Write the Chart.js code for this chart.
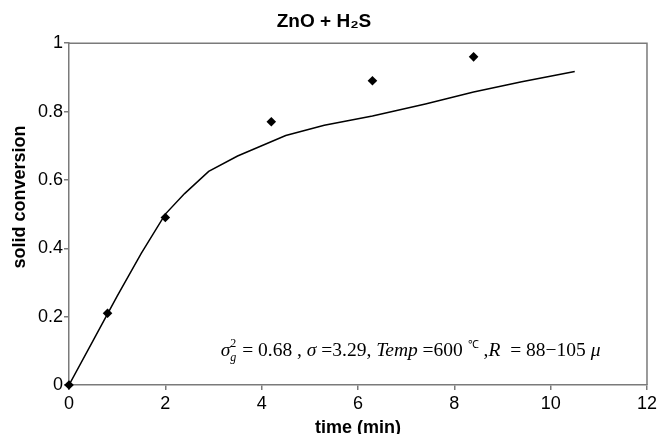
<!DOCTYPE html>
<html>
<head>
<meta charset="utf-8">
<script src="https://cdn.jsdelivr.net/npm/chart.js@4"></script>
<style>
    html, body { margin: 0; padding: 0; background: #fff; }
    #wrap { width: 660px; height: 434px; }
</style>
</head>
<body>
<div id="wrap"><canvas id="chart" width="660" height="434"></canvas></div>
<script>
// measured points (diamonds)
const timeExp = [0, 0.8, 2, 4.2, 6.3, 8.4];
const convExp = [0, 0.21, 0.49, 0.77, 0.89, 0.96];

// model curve
const timeModel = [0, 0.5, 1, 1.5, 2, 2.4, 2.9, 3.5, 4.5, 5.3, 6.3, 7.4, 8.4, 9.4, 10.5];
const convModel = [0, 0.13, 0.26, 0.385, 0.5, 0.56, 0.625, 0.67, 0.73, 0.76, 0.787, 0.822, 0.857, 0.887, 0.917];

const xTicks = [0, 2, 4, 6, 8, 10, 12];
const yTicks = [0, 0.2, 0.4, 0.6, 0.8, 1];

const axisGray = "#7a7a7a";
const sans = "'Liberation Sans', Arial, sans-serif";
const serif = "'Liberation Serif', 'Times New Roman', serif";

// top + right frame, y title, and the parameter note
const extras = {
    id: "extras",
    afterDraw(chart) {
        const ctx = chart.ctx;
        const a = chart.chartArea;
        ctx.save();
        ctx.strokeStyle = axisGray;
        ctx.lineWidth = 1.5;
        ctx.beginPath();
        ctx.moveTo(a.left, a.top);
        ctx.lineTo(a.right, a.top);
        ctx.lineTo(a.right, a.bottom);
        ctx.stroke();

        // y axis title
        ctx.fillStyle = "#000";
        ctx.font = "bold 18px " + sans;
        ctx.textAlign = "center";
        ctx.textBaseline = "middle";
        ctx.translate(20, 197);
        ctx.rotate(-Math.PI / 2);
        ctx.fillText("solid conversion", 0, 0);
        ctx.restore();

        // note
        const xs = chart.scales.x, ys = chart.scales.y;
        let x = xs.getPixelForValue(3.15);
        const y = ys.getPixelForValue(0.084);
        ctx.save();
        ctx.fillStyle = "#000";
        ctx.textBaseline = "alphabetic";
        ctx.textAlign = "left";
        const put = (txt, font, dy) => {
            ctx.font = font;
            ctx.fillText(txt, x, y + (dy || 0));
            x += ctx.measureText(txt).width;
        };
        const it = "italic 19.5px " + serif;
        const rm = "19.5px " + serif;
        const sm = "italic 12px " + serif;
        ctx.font = it;
        const sx = x + ctx.measureText("σ").width;
        put("σ", it);
        ctx.font = sm;
        ctx.fillText("g", sx, y + 5);
        ctx.font = "12px " + serif;
        ctx.fillText("2", sx, y - 9);
        x = sx + 7;
        put(" = 0.68 , ", rm);
        put("σ", it);
        put(" =3.29, ", rm);
        put("Temp", it);
        put(" =600 ", rm);
        put("℃", "11px " + serif, -8);
        put(" ,", rm);
        put("R", it);
        put("  = 88−105 ", rm);
        put("μ", it);
        ctx.restore();
    }
};

new Chart(document.getElementById("chart"), {
    type: "scatter",
    data: {
        datasets: [
            {
                label: "model",
                data: timeModel.map((t, i) => ({ x: t, y: convModel[i] })),
                showLine: true,
                borderColor: "#000",
                borderWidth: 1.5,
                pointRadius: 0,
                tension: 0
            },
            {
                label: "experiment",
                data: timeExp.map((t, i) => ({ x: t, y: convExp[i] })),
                pointStyle: "rectRot",
                pointRadius: 4.8,
                backgroundColor: "#000",
                borderColor: "#000",
                borderWidth: 0,
                clip: false
            }
        ]
    },
    options: {
        responsive: false,
        animation: false,
        layout: { padding: { left: 0, right: 12, top: 0, bottom: 0 } },
        plugins: {
            legend: { display: false },
            tooltip: { enabled: false },
            title: {
                display: true,
                text: "ZnO + H₂S",
                color: "#000",
                font: { family: sans, size: 19, weight: "bold", lineHeight: 1.2 },
                padding: { top: 10.2, bottom: 10.2 }
            }
        },
        scales: {
            x: {
                type: "linear",
                min: 0,
                max: 12,
                afterFit: s => { s.height = 49; },
                afterBuildTicks: s => { s.ticks = xTicks.map(v => ({ value: v })); },
                border: { color: axisGray, width: 1.5 },
                grid: { drawOnChartArea: false, drawTicks: true, tickLength: 5, color: axisGray, lineWidth: 1.5 },
                ticks: { color: "#000", padding: 3, font: { family: sans, size: 18 }, callback: v => String(v) },
                title: {
                    display: true,
                    text: "time (min)",
                    color: "#000",
                    font: { family: sans, size: 18, weight: "bold" },
                    padding: { top: 0, bottom: -5 }
                }
            },
            y: {
                type: "linear",
                min: 0,
                max: 1,
                afterFit: s => { s.width = 69; },
                afterBuildTicks: s => { s.ticks = yTicks.map(v => ({ value: v })); },
                border: { color: axisGray, width: 1.5 },
                grid: { drawOnChartArea: false, drawTicks: true, tickLength: 5, color: axisGray, lineWidth: 1.5 },
                ticks: { color: "#000", padding: 1, font: { family: sans, size: 18 }, callback: v => String(v) }
            }
        }
    },
    plugins: [extras]
});
</script>
</body>
</html>
